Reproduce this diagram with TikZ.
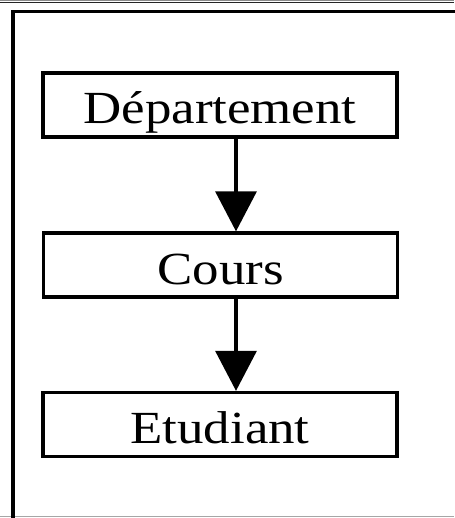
\documentclass[tikz,border=0pt]{standalone}
\usepackage{fontspec}
\usepackage{graphicx}
\setmainfont{Liberation Serif}
\usetikzlibrary{arrows.meta}

\tikzset{
  entity/.style={draw=black, line width=3.3pt, fill=white, inner sep=0pt,
    minimum width=354pt, minimum height=64pt,
    text height=38pt, text depth=0pt,
    font=\fontsize{46pt}{50pt}\selectfont},
  link/.style={line width=3.2pt, -{Triangle[length=40pt, width=41pt]}},
  frame/.style={line width=3.3pt, line cap=rect},
  rule/.style={line width=1pt}
}
\newcommand{\wide}[1]{\scalebox{1.15}[1]{#1}}

\begin{document}
\begin{tikzpicture}[x=1pt, y=-1pt]
  \useasboundingbox (0,0) rectangle (454,518);
  \fill[white] (0,0) rectangle (454,518);

  % page rules and surrounding frame
  \draw[rule, black!45] (0,0.8) -- (454,0.8);
  \draw[rule, black!85] (0,2.8) -- (454,2.8);
  \draw[rule, black!35] (0,516.6) -- (454,516.6);
  \draw[frame] (13,518) -- (13,11.5) -- (454,11.5);

  % hierarchy boxes
  \node[entity] (dep)   at (220,105)   {\wide{Département}};
  \node[entity] (cours) at (220.5,265) {\wide{Cours}};
  \node[entity] (etud)  at (220,424.5) {\wide{Etudiant}};

  % connectors, slightly right of centre
  \coordinate (ax) at (236,0);
  \draw[link] (dep.south -| ax) -- (cours.north -| ax);
  \draw[link] (cours.south -| ax) -- (etud.north -| ax);
\end{tikzpicture}
\end{document}
